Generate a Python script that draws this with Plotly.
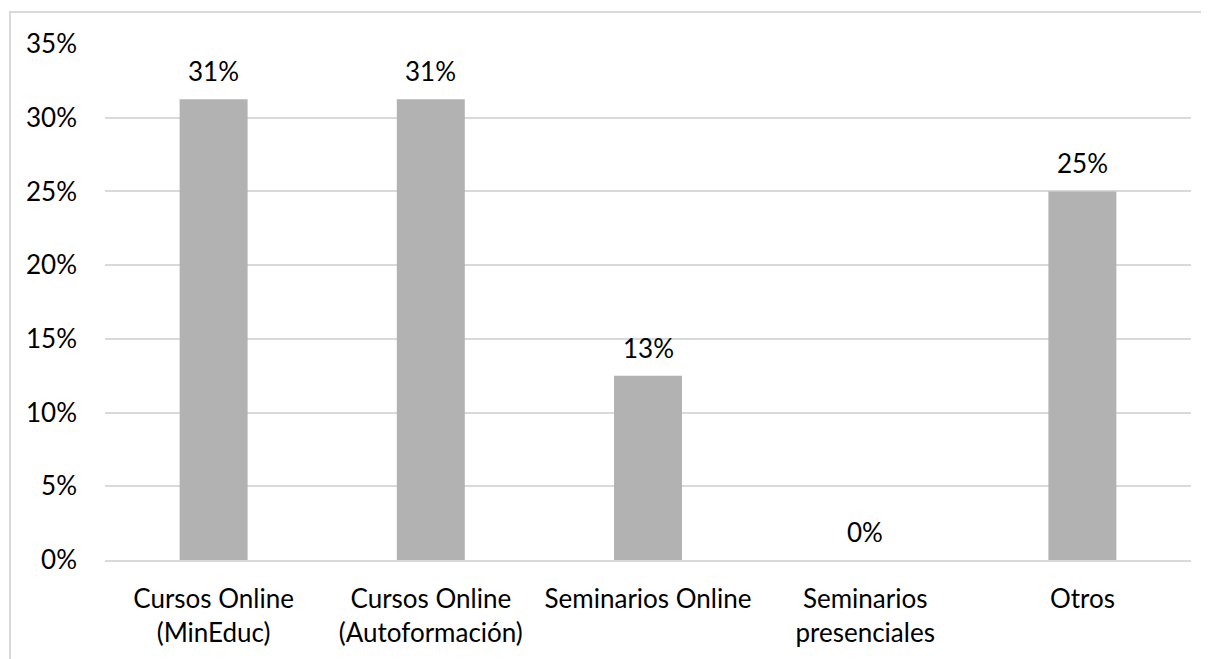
import plotly.graph_objects as go

categories = ["Cursos Online<br>(MinEduc)", "Cursos Online<br>(Autoformación)",
              "Seminarios Online", "Seminarios<br>presenciales", "Otros"]
values = [31.25, 31.25, 12.5, 0.0, 25.0]
value_labels = ["31%", "31%", "13%", "0%", "25%"]
y_ticks = [0, 5, 10, 15, 20, 25, 30, 35]
y_tick_labels = ["0%", "5%", "10%", "15%", "20%", "25%", "30%", "35%"]

FONT = "Lato, Calibri, Carlito, sans-serif"
FS = 26

fig = go.Figure()
fig.add_trace(go.Bar(x=categories, y=values, marker=dict(color="#b2b2b2", line=dict(width=0)),
                     hoverinfo="skip"))

for c, v, t in zip(categories, values, value_labels):
    fig.add_annotation(x=c, y=v, text=t, showarrow=False, yanchor="bottom",
                       yshift=10, font=dict(family=FONT, size=FS, color="#000000"))

W, H = 1201, 651
L, R, T, B = 97, 18, 36, 99
plot_w = W - L - R
plot_h = H - T - B

fig.update_layout(
    width=W, height=H,
    margin=dict(l=L, r=R, t=T, b=B),
    paper_bgcolor="white", plot_bgcolor="white",
    bargap=0.687, showlegend=False,
    font=dict(family=FONT, size=FS, color="#000000"),
)
fig.update_xaxes(showgrid=False, showline=True, linecolor="#d9d9d9", linewidth=2,
                 ticks="", ticklabelstandoff=15, tickfont=dict(family=FONT, size=FS))
fig.update_yaxes(range=[0, 35], tickvals=y_ticks, ticktext=y_tick_labels,
                 showgrid=True, gridcolor="#d9d9d9", gridwidth=2, zeroline=False,
                 showline=False, ticks="", ticklabelstandoff=27,
                 tickfont=dict(family=FONT, size=FS))

fig.add_shape(type="rect", xref="paper", yref="paper",
              x0=(2 - L) / plot_w, x1=1.2, y0=-1, y1=(H - B - 4) / plot_h,
              line=dict(color="#d9d9d9", width=2), layer="below")

fig.write_html("out.html")
